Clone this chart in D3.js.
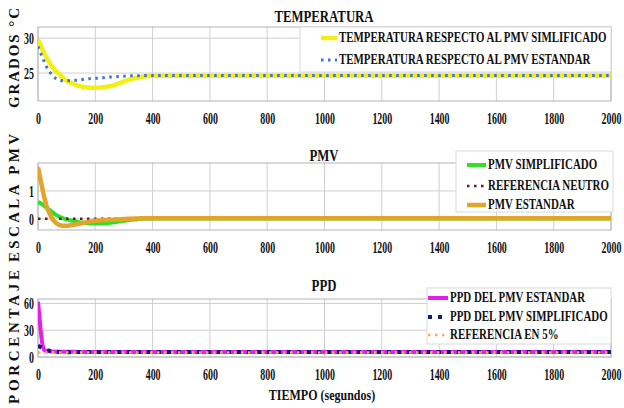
<!DOCTYPE html>
<html><head><meta charset="utf-8">
<script src="https://cdn.jsdelivr.net/npm/d3@7"></script>
<style>body{margin:0;background:#fff}svg{display:block}</style>
</head><body>
<svg id="c" width="624" height="408"></svg>
<script>
// ---------- DATA ----------
const xTicks = [0,200,400,600,800,1000,1200,1400,1600,1800,2000];

const tempTime = [0,10,20,30,40,50,60,70,80,90,100,120,140,160,180,200,220,240,260,280,300,320,340,360,380,400,450,500,600,800,1000,1200,1400,1600,1800,2000];
const tempSimplificado = [29.8,28.9,28.0,27.2,26.5,25.9,25.4,25.0,24.6,24.2,23.9,23.5,23.2,23.0,22.9,22.9,22.95,23.05,23.2,23.5,23.8,24.1,24.3,24.45,24.55,24.6,24.62,24.63,24.63,24.63,24.63,24.63,24.63,24.63,24.63,24.63];
const tempEstandar = [28.8,27.8,26.8,25.9,25.2,24.7,24.3,24.05,23.95,23.9,23.9,23.95,24.0,24.1,24.2,24.25,24.3,24.4,24.45,24.5,24.55,24.6,24.62,24.63,24.64,24.65,24.65,24.65,24.65,24.65,24.65,24.65,24.65,24.65,24.65,24.65];
const tempYTicks = [25,30];

const pmvTime = [0,5,10,15,20,25,30,40,50,60,70,80,90,100,120,140,160,180,200,220,240,260,280,300,320,340,360,400,500,800,1200,1600,2000];
const pmvEstandar = [1.85,1.6,1.35,1.1,0.85,0.65,0.45,0.2,0.0,-0.12,-0.2,-0.24,-0.25,-0.25,-0.22,-0.18,-0.14,-0.1,-0.07,-0.05,-0.04,-0.03,-0.02,-0.01,0,0.01,0.02,0.02,0.02,0.02,0.02,0.02,0.02];
const pmvSimplificado = [0.6,0.58,0.55,0.52,0.48,0.44,0.4,0.32,0.24,0.16,0.1,0.05,0.01,-0.02,-0.07,-0.11,-0.14,-0.16,-0.17,-0.17,-0.16,-0.13,-0.1,-0.07,-0.04,-0.02,0,0.01,0.01,0.01,0.01,0.01,0.01];
const pmvRefTime = [0,2000];
const pmvReferencia = [0,0];
const pmvYTicks = [0,1];

const ppdTime = [0,5,10,15,20,25,30,40,50,70,100,150,200,300,400,600,1000,1400,2000];
const ppdEstandar = [62,45,28,15,9,7,6.6,6.3,6.1,6.0,5.9,5.7,5.6,5.5,5.5,5.5,5.5,5.5,5.5];
const ppdSimplificado = [12.5,11.8,11,10.2,9.5,8.8,8.0,7.0,6.3,5.7,5.4,5.5,5.6,5.5,5.5,5.5,5.5,5.5,5.5];
const ppdRefTime = [0,2000];
const ppdReferencia = [5,5];
const ppdYTicks = [0,30,60];

// ---------- DRAW ----------
const svg = d3.select("#c");
const FONT = "'Liberation Serif','Times New Roman',serif";
const x = d3.scaleLinear().domain([0,2000]).range([38,611]);

function label(g, s, px, py, size, anchor, sx, rot, len){
  const t = g.append("text").text(s)
    .attr("transform", `translate(${px},${py}) rotate(${rot||0}) scale(${sx},1)`)
    .attr("text-anchor", anchor).attr("dominant-baseline","central")
    .attr("font-family", FONT).attr("font-weight","bold").attr("font-size", size)
    .attr("fill","#111");
  if(len){ t.attr("textLength", len).attr("lengthAdjust","spacing"); }
  return t;
}

function panel(opt){
  const y = d3.scaleLinear().domain(opt.yDomain).range([opt.bottom, opt.top]);
  const g = svg.append("g");
  g.selectAll(".vg").data(xTicks).join("line")
    .attr("x1", d=>x(d)).attr("x2", d=>x(d)).attr("y1", opt.top).attr("y2", opt.bottom)
    .attr("stroke","#cfcfcf").attr("stroke-width",1);
  g.selectAll(".hg").data(opt.yTicks).join("line")
    .attr("x1", x(0)).attr("x2", x(2000)).attr("y1", d=>y(d)).attr("y2", d=>y(d))
    .attr("stroke","#cfcfcf").attr("stroke-width",1);
  g.append("rect").attr("x", x(0)).attr("y", opt.top).attr("width", x(2000)-x(0)).attr("height", opt.bottom-opt.top)
    .attr("fill","none").attr("stroke","#b4b4b4");
  const ax = g.append("g").attr("transform",`translate(0,${opt.bottom})`)
    .call(d3.axisBottom(x).tickValues(xTicks).tickSize(0).tickFormat(d3.format("d")));
  ax.select(".domain").remove();
  ax.selectAll("text").attr("y",0).attr("dy",null).attr("dominant-baseline","central")
    .attr("transform","translate(0,18) scale(0.62,1)")
    .attr("font-family",FONT).attr("font-weight","bold").attr("font-size",16).attr("fill","#111");
  const ay = g.append("g").attr("transform",`translate(${x(0)},0)`)
    .call(d3.axisLeft(y).tickValues(opt.yTicks).tickSize(0).tickFormat(d3.format("d")));
  ay.select(".domain").remove();
  ay.selectAll("text").attr("x",0).attr("dy",null).attr("dominant-baseline","central")
    .attr("transform","translate(-4,0) scale(0.62,1)")
    .attr("font-family",FONT).attr("font-weight","bold").attr("font-size",16).attr("fill","#111");
  const clipId = "clip"+opt.top;
  svg.append("clipPath").attr("id",clipId).append("rect")
    .attr("x", x(0)).attr("y", opt.top-3).attr("width", x(2000)-x(0)+2).attr("height", opt.bottom-opt.top+3);
  const sg = g.append("g").attr("clip-path",`url(#${clipId})`);
  opt.series.forEach(s=>{
    const line = d3.line().x((d,i)=>x(s.t[i])).y(d=>y(d)).curve(d3.curveMonotoneX);
    sg.append("path").datum(s.v).attr("d", line)
      .attr("fill","none").attr("stroke", s.color).attr("stroke-width", s.w)
      .attr("stroke-dasharray", s.dash||null).attr("stroke-linecap", s.cap||"butt");
  });
  label(svg, opt.title, 324, opt.titleY, 16, "middle", 0.8);
  const L = opt.legend;
  svg.append("rect").attr("x",L.x).attr("y",L.y).attr("width",L.w).attr("height",L.h)
    .attr("fill","#fff").attr("stroke","#dadada");
  opt.series.forEach((s,i)=>{
    const ly = L.rowY[i];
    svg.append("line").attr("x1",L.sx0).attr("x2",L.sx1).attr("y1",ly).attr("y2",ly)
      .attr("stroke",s.color).attr("stroke-width",s.w).attr("stroke-dasharray",s.dash||null);
    label(svg, s.name, L.sx1+2, ly, 14, "start", 0.78);
  });
  return y;
}

panel({
  top:27, bottom:101, yDomain:[21,31.6], yTicks:tempYTicks, title:"TEMPERATURA", titleY:16,
  series:[
    {name:"TEMPERATURA RESPECTO AL PMV SIMLIFICADO", t:tempTime, v:tempSimplificado, color:"#f3ef12", w:4.5},
    {name:"TEMPERATURA RESPECTO AL PMV ESTANDAR", t:tempTime, v:tempEstandar, color:"#3f6fd8", w:3, dash:"2.5,4.5"}
  ],
  legend:{x:300, y:27, w:311, h:45, rowY:[38,60], sx0:321, sx1:337}
});

panel({
  top:163, bottom:230, yDomain:[-0.4,2.0], yTicks:pmvYTicks, title:"PMV", titleY:155,
  series:[
    {name:"PMV SIMPLIFICADO", t:pmvTime, v:pmvSimplificado, color:"#2ee02a", w:4},
    {name:"REFERENCIA NEUTRO", t:pmvRefTime, v:pmvReferencia, color:"#5e1c22", w:2.5, dash:"2.5,4.5"},
    {name:"PMV ESTANDAR", t:pmvTime, v:pmvEstandar, color:"#e1a52a", w:4.5}
  ],
  legend:{x:456, y:151, w:157, h:61, rowY:[165,186,205], sx0:467, sx1:486}
});

panel({
  top:299, bottom:357, yDomain:[0,65], yTicks:ppdYTicks, title:"PPD", titleY:285,
  series:[
    {name:"PPD DEL PMV ESTANDAR", t:ppdTime, v:ppdEstandar, color:"#e51ee8", w:4},
    {name:"PPD DEL  PMV SIMPLIFICADO", t:ppdTime, v:ppdSimplificado, color:"#141a6e", w:4, dash:"4,6"},
    {name:"REFERENCIA EN 5%", t:ppdRefTime, v:ppdReferencia, color:"#f2b25a", w:2.5, dash:"2.5,4.5"}
  ],
  legend:{x:427, y:288, w:184, h:56, rowY:[298,317,335], sx0:428, sx1:448}
});

label(svg, "TIEMPO (segundos)", 322, 395, 15, "middle", 0.8);
label(svg, "GRADOS °C", 14, 58, 15, "middle", 1, -90, 100);
label(svg, "ESCALA PMV", 14, 198, 15, "middle", 1, -90, 128);
label(svg, "PORCENTAJE", 14, 337, 15, "middle", 1, -90, 134);
</script>
</body></html>
